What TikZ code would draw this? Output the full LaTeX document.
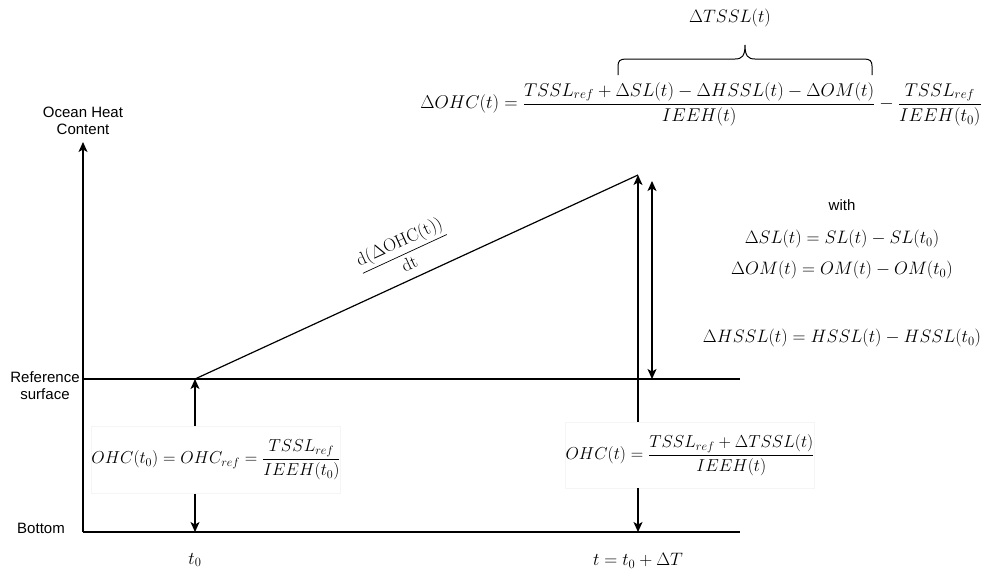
\RequirePackage{fix-cm}
\documentclass[tikz,border=0pt]{standalone}
\usepackage{amsmath}
\usepackage{fontspec}
\newfontfamily\labelfont{Liberation Sans}
\usetikzlibrary{arrows.meta}
\begin{document}
\begin{tikzpicture}[x=1pt,y=-1pt,line width=1.2pt,
  arr/.style={-{Stealth[length=10pt,width=9pt,inset=2.5pt]}},
  darr/.style={{Stealth[length=10pt,width=9pt,inset=2.5pt]}-{Stealth[length=10pt,width=9pt,inset=2.5pt]}},
  sans/.style={font=\labelfont\fontsize{15}{17}\selectfont,align=center,inner sep=0pt},
  eq/.style={font=\fontsize{18}{22}\selectfont,inner sep=0pt},
  bigeq/.style={font=\fontsize{18.5}{23}\selectfont,inner sep=0pt},
  eqbox/.style={font=\fontsize{17.3}{21}\selectfont,fill=white,draw=black!4,line width=0.6pt,inner sep=0pt}]
\useasboundingbox (0,0) rectangle (985,573);
% coordinates
\coordinate (O) at (83,532);
\coordinate (Ytop) at (83,142);
\coordinate (Rl) at (83,379);
\coordinate (Rr) at (740,379);
\coordinate (Br) at (740,532);
\coordinate (A) at (195,379);
\coordinate (A0) at (195,532);
\coordinate (P) at (638,175);
\coordinate (P0) at (638,532);
\coordinate (Q) at (652,181);
\coordinate (Q0) at (652,379);
\coordinate (brL) at (618,75);
\coordinate (brR) at (872,75);
\coordinate (brT) at (745,45);
% axes and lines
\draw[arr] (O) -- (Ytop);
\draw (Rl) -- (Rr);
\draw (O) -- (Br);
\draw (A) -- (P);
% labels
\node[sans] (ohcl) at (83,121) {Ocean Heat\\Content};
\node[sans] (refl) at (45,386) {Reference\\surface};
\node[sans] (botl) at (41,528) {Bottom};
\node[sans] (with) at (842,205) {with};
% boxes
\node[eqbox,minimum width=247pt,minimum height=67pt] (L0) at (216,460)
  {$OHC(t_0)=OHC_{ref}=\dfrac{TSSL_{ref}}{IEEH(t_0)}$};
\node[eqbox,minimum width=245pt,minimum height=66pt] (L1) at (690,455)
  {$OHC(t)=\dfrac{TSSL_{ref}+\Delta TSSL(t)}{IEEH(t)}$};
\draw[arr] (L0.north -| A) -- (A);
\draw[arr] (L0.south -| A) -- (A0);
\draw[arr] (L1.north -| P) -- (P);
\draw[arr] (L1.south -| P) -- (P0);
\draw[darr] (Q) -- (Q0);
% time labels
\node[eq] (t0) at (195,560) {$t_0$};
\node[eq] (t1) at (638,561) {$t=t_0+\Delta T$};
% slope label
\node[eq,rotate=24.8] (slope) at (404,252)
  {$\dfrac{\mathrm{d}(\Delta\mathrm{OHC}(\mathrm{t}))}{\mathrm{dt}}$};
% main equation
\node[bigeq] (main) at (701,104)
  {$\Delta OHC(t)=\dfrac{TSSL_{ref}+\Delta SL(t)-\Delta HSSL(t)-\Delta OM(t)}{IEEH(t)}-\dfrac{TSSL_{ref}}{IEEH(t_0)}$};
% brace
\draw[line width=1pt] (brL) -- (618,66) .. controls (618,61) and (620,59) .. (626,59)
  -- (735,59) .. controls (742,59) and (745,56) .. (brT)
  .. controls (745,56) and (748,59) .. (755,59)
  -- (864,59) .. controls (870,59) and (872,61) .. (872,66) -- (brR);
\node[eq] (dtssl) at (730,18) {$\Delta TSSL(t)$};
% right equations
\node[eq] (e1) at (842,239) {$\Delta SL(t)=SL(t)-SL(t_0)$};
\node[eq] (e2) at (842,270) {$\Delta OM(t)=OM(t)-OM(t_0)$};
\node[eq] (e3) at (842,338) {$\Delta HSSL(t)=HSSL(t)-HSSL(t_0)$};
\end{tikzpicture}
\end{document}
